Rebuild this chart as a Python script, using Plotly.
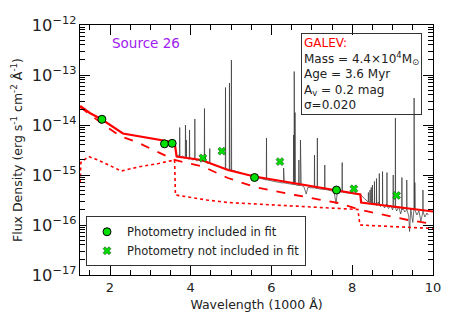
import numpy as np
import plotly.graph_objects as go

# ---------------- data (wavelength in 1000 A, flux in erg/s/cm2/A) ----------------
# GALEV total model (solid)
model_x = [1.26, 1.50, 1.80, 2.32, 3.60, 3.65, 4.27, 4.92, 5.58, 7.65, 8.20, 8.22, 10.0]
model_logf = [-13.62, -13.76, -13.89, -14.17, -14.35, -14.63, -14.70, -14.90, -15.03,
              -15.32, -15.39, -15.55, -15.73]
# stellar component (dashed)
stellar_x = [1.26, 1.80, 2.27, 2.69, 3.60, 4.30, 4.92, 5.59, 6.58, 7.65, 8.22, 8.81, 9.38, 10.0]
stellar_logf = [-13.64, -13.97, -14.23, -14.35, -14.70, -14.83, -15.06, -15.24, -15.40,
                -15.56, -15.70, -15.80, -15.90, -15.98]
# nebular component (dotted)
nebular_x = [1.26, 1.28, 1.47, 1.70, 2.28, 2.70, 3.20, 3.60, 3.62, 4.40, 4.92, 6.00, 7.00,
             8.14, 8.19, 10.0]
nebular_logf = [-15.15, -14.75, -14.63, -14.70, -14.92, -14.84, -14.77, -14.70, -15.40,
                -15.50, -15.55, -15.60, -15.65, -15.69, -16.00, -16.07]

# photometry
phot_in_x = [1.80, 3.35, 3.54, 5.58, 7.61]
phot_in_f = [1.3e-14, 4.2e-15, 4.3e-15, 8.9e-16, 5.0e-16]
phot_out_x = [4.30, 4.77, 6.21, 8.04, 9.10]
phot_out_f = [2.2e-15, 3.0e-15, 1.85e-15, 5.3e-16, 3.9e-16]

# observed spectrum: continuum nodes
spec_x = [3.66, 3.70, 3.75, 3.80, 3.85, 3.90, 3.95, 4.00, 4.05, 4.10, 4.15, 4.20, 4.25, 4.30,
          4.40, 4.50, 4.60, 4.70, 4.80, 4.90, 5.00, 5.10, 5.20, 5.30, 5.40, 5.50, 5.60, 5.70,
          5.80, 5.90, 6.00, 6.10, 6.20, 6.30, 6.40, 6.50, 6.60, 6.70, 6.80, 6.86, 6.90, 7.00,
          7.20, 7.40, 7.55, 7.60, 7.63, 7.80, 8.00, 8.20, 8.30, 8.36, 8.45, 8.55, 8.60, 8.65,
          8.70, 8.75, 8.80, 8.85, 8.90, 8.95, 9.00, 9.05, 9.10, 9.15, 9.20, 9.25, 9.30, 9.35,
          9.40, 9.42, 9.45, 9.50, 9.55, 9.60, 9.65, 9.70, 9.75, 9.80, 9.85, 9.88]
spec_logf = [-14.62, -14.60, -14.64, -14.62, -14.66, -14.65, -14.68, -14.66, -14.70, -14.68,
             -14.72, -14.70, -14.74, -14.72, -14.76, -14.78, -14.81, -14.84, -14.86, -14.88,
             -14.90, -14.92, -14.95, -14.97, -15.00, -15.02, -15.04, -15.06, -15.08, -15.10,
             -15.12, -15.13, -15.15, -15.16, -15.17, -15.19, -15.20, -15.21, -15.23, -15.38,
             -15.25, -15.26, -15.28, -15.30, -15.33, -15.58, -15.33, -15.35, -15.37, -15.39,
             -15.47, -15.52, -15.55, -15.56, -15.61, -15.54, -15.63, -15.57, -15.66, -15.58,
             -15.67, -15.60, -15.70, -15.62, -15.72, -15.63, -15.78, -15.65, -15.74, -15.66,
             -15.82, -16.13, -15.68, -15.95, -15.70, -15.80, -15.72, -15.92, -15.74, -15.84,
             -15.76, -15.80]
# emission lines: centre, continuum base, peak (log flux)
line_x = [3.727, 3.869, 3.889, 3.970, 4.101, 4.340, 4.363, 4.471, 4.861, 4.959, 5.007, 5.876,
          6.300, 6.312, 6.548, 6.563, 6.583, 6.678, 6.717, 6.731, 7.065, 7.136, 7.320, 7.751,
          8.40, 8.44, 8.47, 8.50, 8.55, 8.60, 8.67, 8.75, 8.86, 9.015, 9.069, 9.23, 9.35,
          9.532, 9.55, 9.75]
line_base = [-14.62, -14.66, -14.66, -14.68, -14.68, -14.73, -14.74, -14.77, -14.87, -14.89,
             -14.90, -15.10, -15.16, -15.16, -15.19, -15.19, -15.19, -15.21, -15.21, -15.21,
             -15.26, -15.27, -15.29, -15.34, -15.54, -15.55, -15.55, -15.56, -15.56, -15.58,
             -15.60, -15.58, -15.62, -15.66, -15.66, -15.70, -15.70, -15.70, -15.70, -15.74]
line_peak = [-14.05, -14.00, -14.30, -14.10, -13.88, -13.67, -14.60, -14.47, -13.25, -13.16,
             -12.70, -14.26, -14.86, -15.00, -14.20, -12.93, -13.75, -14.70, -14.30, -14.45,
             -14.60, -14.26, -14.80, -14.75, -15.35, -15.30, -15.25, -15.20, -15.13, -15.07,
             -14.97, -14.93, -14.95, -15.00, -13.86, -15.05, -15.10, -13.46, -15.15, -15.30]

x_tickvals = [2, 4, 6, 8, 10]

# ---------------- build spectrum polyline ----------------
pts = list(zip(spec_x, spec_logf))
hw = 0.005
for lx, lb, lp in zip(line_x, line_base, line_peak):
    pts += [(lx - hw, lb), (lx, lp), (lx + hw, lb)]
pts.sort(key=lambda p: p[0])
sx = [p[0] for p in pts]
sy = [10 ** p[1] for p in pts]

RED = "#FF0000"
FONT = "DejaVu Sans"

fig = go.Figure()
fig.add_trace(go.Scatter(x=sx, y=sy, mode="lines", line=dict(color="#333333", width=0.7),
                         showlegend=False, hoverinfo="skip"))
fig.add_trace(go.Scatter(x=nebular_x, y=[10 ** v for v in nebular_logf], mode="lines",
                         line=dict(color=RED, width=1.6, dash="dot"), showlegend=False))
fig.add_trace(go.Scatter(x=stellar_x, y=[10 ** v for v in stellar_logf], mode="lines",
                         line=dict(color=RED, width=1.8, dash="dash"), showlegend=False))
fig.add_trace(go.Scatter(x=model_x, y=[10 ** v for v in model_logf], mode="lines",
                         line=dict(color=RED, width=2.2), showlegend=False))
fig.add_trace(go.Scatter(x=phot_in_x, y=phot_in_f, mode="markers", name="Photometry included in fit",
                         marker=dict(symbol="circle", size=8, color="#00E000",
                                     line=dict(color="black", width=1))))
fig.add_trace(go.Scatter(x=phot_out_x, y=phot_out_f, mode="markers",
                         name="Photometry not included in fit",
                         marker=dict(symbol="x", size=7, color="#00DD00",
                                     line=dict(color="#1A4A1A", width=0.6))))

axis_common = dict(showline=True, linecolor="black", linewidth=1, mirror="allticks",
                   ticks="inside", tickcolor="black", ticklen=10, tickwidth=1,
                   showgrid=False, zeroline=False, automargin=False,
                   tickfont=dict(family=FONT, size=13, color="#222222"))

fig.update_xaxes(range=[1.257, 10], tickvals=x_tickvals, ticktext=[str(v) for v in x_tickvals],
                 minor=dict(ticks="inside", ticklen=5, dtick=0.5, tick0=0, tickcolor="black",
                            showgrid=False),
                 title=dict(text="Wavelength (1000 Å)", font=dict(family=FONT, size=12.5, color="#222222"),
                            standoff=6),
                 **axis_common)
fig.update_yaxes(type="log", range=[-17, -12], dtick=1, exponentformat="power",
                 minor=dict(ticks="inside", ticklen=5, dtick="D1", tickcolor="black",
                            showgrid=False),
                 title=dict(text="Flux Density (erg s<sup>-1</sup> cm<sup>-2</sup> Å<sup>-1</sup>)",
                            font=dict(family=FONT, size=12.5, color="#222222"), standoff=6),
                 **axis_common)

fig.add_annotation(x=0.085, y=0.928, xref="paper", yref="paper", xanchor="left", yanchor="middle",
                   text="Source 26", showarrow=False,
                   font=dict(family=FONT, size=13.5, color="#A020F0"))
fig.add_annotation(x=0.626, y=0.968, xref="paper", yref="paper", xanchor="left", yanchor="top",
                   align="left", showarrow=False, bordercolor="#333333", borderwidth=1, borderpad=2,
                   text=("<span style='color:#FF0000'>GALEV:</span><br>"
                         "Mass = 4.4×10<sup>4</sup>M<sub>⊙</sub><br>"
                         "Age = 3.6 Myr<br>"
                         "A<sub>v</sub> = 0.2 mag<br>"
                         "σ=0.020"),
                   font=dict(family=FONT, size=12, color="#222222"))

# the page body adds an 8px offset, so the figure is drawn 8px smaller
fig.update_layout(
    template="none",
    width=449, height=318,
    margin=dict(l=72, r=24, t=17, b=51),
    paper_bgcolor="white", plot_bgcolor="white",
    showlegend=True,
    legend=dict(x=0.017, y=0.035, xanchor="left", yanchor="bottom",
                bgcolor="white", bordercolor="#333333", borderwidth=1,
                font=dict(family=FONT, size=11.5, color="#222222"),
                itemwidth=30, tracegroupgap=0),
    font=dict(family=FONT, color="#222222"),
)

fig.write_html("out.html")
